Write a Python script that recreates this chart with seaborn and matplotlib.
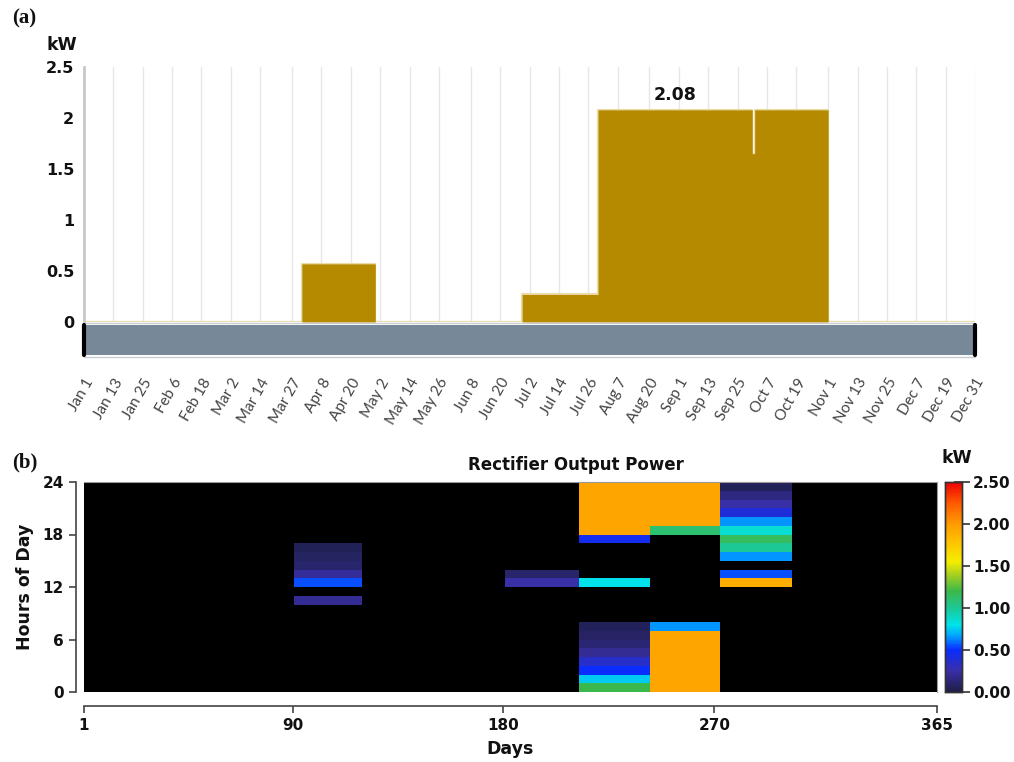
import numpy as np
import matplotlib
matplotlib.use("Agg")
import matplotlib.pyplot as plt
from matplotlib.colors import LinearSegmentedColormap
import seaborn as sns

# ---------------------------------------------------------------
# DATA
# ---------------------------------------------------------------
DAYS = np.arange(1, 366)

# panel (a): daily peak of rectifier output, step segments [start, end)
SEG_START = [90, 180, 211, 274, 275]
SEG_END = [120, 211, 274, 275, 305]
SEG_KW = [0.57, 0.27, 2.08, 1.65, 2.08]

DATE_LABELS = ["Jan 1", "Jan 13", "Jan 25", "Feb 6", "Feb 18", "Mar 2", "Mar 14",
               "Mar 27", "Apr 8", "Apr 20", "May 2", "May 14", "May 26", "Jun 8",
               "Jun 20", "Jul 2", "Jul 14", "Jul 26", "Aug 7", "Aug 20", "Sep 1",
               "Sep 13", "Sep 25", "Oct 7", "Oct 19", "Nov 1", "Nov 13", "Nov 25",
               "Dec 7", "Dec 19", "Dec 31"]
DATE_DOY = [1, 13, 25, 37, 49, 61, 73, 86, 98, 110, 122, 134, 146, 159, 171, 183,
            195, 207, 219, 232, 244, 256, 268, 280, 292, 305, 317, 329, 341, 353, 365]

# panel (b): hour-of-day profiles (hour 0..23, kW) for day blocks [start, end)
HM_START = [91, 181, 213, 243, 273]
HM_END = [120, 213, 243, 273, 304]
HM_PROFILES = [
    [0, 0, 0, 0, 0, 0, 0, 0, 0, 0, 0.20, 0, 0.55, 0.22, 0.10, 0.07,
     0.04, 0, 0, 0, 0, 0, 0, 0],
    [0, 0, 0, 0, 0, 0, 0, 0, 0, 0, 0, 0, 0.25, 0.10, 0, 0,
     0, 0, 0, 0, 0, 0, 0, 0],
    [1.20, 0.75, 0.50, 0.35, 0.20, 0.12, 0.08, 0.05, 0, 0, 0, 0, 0.80, 0, 0, 0,
     0, 0.45, 1.95, 1.95, 1.95, 1.95, 1.95, 1.95],
    [1.95, 1.95, 1.95, 1.95, 1.95, 1.95, 1.95, 0.65, 0, 0, 0, 0, 0, 0, 0, 0,
     0, 0, 1.10, 1.95, 1.95, 1.95, 1.95, 1.95],
    [0, 0, 0, 0, 0, 0, 0, 0, 0, 0, 0, 0, 1.90, 0.55, 0, 0.65,
     1.00, 1.15, 0.85, 0.65, 0.40, 0.25, 0.15, 0.05],
]
HM_DAY_TICKS = [1, 90, 180, 270, 365]
HM_HOUR_TICKS = [0, 6, 12, 18, 24]
CBAR_TICKS = [0, 0.5, 1.0, 1.5, 2.0, 2.5]

# build the daily / hourly tables from the segments
kw_daily = np.zeros(len(DAYS))
for s, e, v in zip(SEG_START, SEG_END, SEG_KW):
    kw_daily[(DAYS >= s) & (DAYS < e)] = v

power = np.zeros((24, len(DAYS)))
for s, e, prof in zip(HM_START, HM_END, HM_PROFILES):
    cols = (DAYS >= s) & (DAYS < e)
    power[:, cols] = np.array(prof)[:, None]

# ---------------------------------------------------------------
# STYLE
# ---------------------------------------------------------------
sns.set_theme(style="white")
plt.rcParams["font.family"] = ["DejaVu Sans"]
TXT = "#111111"
GOLD = "#B58900"
BOLD = dict(fontweight="bold", color=TXT)

W, H = 1014, 762
fig = plt.figure(figsize=(W / 100, H / 100), dpi=100)


def box(x0, y0, x1, y1):
    return [x0 / W, 1 - y1 / H, (x1 - x0) / W, (y1 - y0) / H]


# ---------------------------------------------------------------
# (a) area chart
# ---------------------------------------------------------------
ax_a = fig.add_axes(box(84, 67, 975, 322))
sns.lineplot(x=DAYS, y=kw_daily, ax=ax_a, color="#eadca9", lw=1.6,
             drawstyle="steps-post", zorder=2)
ax_a.fill_between(DAYS, kw_daily, step="post", color=GOLD, lw=0, zorder=3)
ax_a.set_xlim(1, 365)
ax_a.set_ylim(0, 2.5)
ax_a.set_xticks(DATE_DOY)
ax_a.set_xticklabels([])
ax_a.grid(axis="x", color="#e6e6e6", lw=1)
ax_a.grid(axis="y", visible=False)
ax_a.set_yticks([0, 0.5, 1, 1.5, 2, 2.5])
ax_a.set_yticklabels(["0", "0.5", "1", "1.5", "2", "2.5"], fontsize=11.5, **BOLD)
ax_a.tick_params(axis="both", length=0)
ax_a.tick_params(axis="y", pad=7)
for side in ["top", "right", "bottom"]:
    ax_a.spines[side].set_visible(False)
ax_a.spines["left"].set_color("#c8c8c8")
ax_a.spines["left"].set_linewidth(2)
ax_a.set_xlabel("")
ax_a.set_ylabel("")

peak = max(SEG_KW)
peak_i = SEG_KW.index(peak)
ax_a.text((SEG_START[peak_i] + SEG_END[peak_i]) / 2, peak + 0.06, f"{peak:.2f}",
          ha="center", va="bottom", fontsize=12.5, **BOLD)

# range-slider band under the chart with the date labels
ax_band = fig.add_axes(box(84, 325, 975, 355))
ax_band.set_facecolor("#778899")
ax_band.set_xlim(1, 365)
ax_band.set_ylim(0, 1)
for s in ax_band.spines.values():
    s.set_visible(False)
ax_band.axhline(1.08, color="#c9cdd2", lw=1, clip_on=False)
ax_band.axhline(-0.08, color="#c9cdd2", lw=1, clip_on=False)
ax_band.axvline(1, color="black", lw=3, clip_on=False)
ax_band.axvline(365, color="black", lw=3, clip_on=False)
ax_band.set_yticks([])
ax_band.set_xticks(DATE_DOY)
ax_band.set_xticklabels(DATE_LABELS, rotation=60, ha="right",
                        rotation_mode="anchor", fontsize=11, color="#444444",
                        family=["Lato", "DejaVu Sans"])
ax_band.tick_params(axis="x", length=0, pad=15)

fig.text(12 / W, 1 - 18 / H, "(a)", fontfamily="Liberation Serif",
         fontsize=15, va="center", **BOLD)
fig.text(62 / W, 1 - 45 / H, "kW", fontsize=12.5, ha="center", va="center",
         **BOLD)

# ---------------------------------------------------------------
# (b) heat map
# ---------------------------------------------------------------
cmap = LinearSegmentedColormap.from_list("rect", [
    (0.00, "#1e1e46"), (0.10, "#3a2fa8"), (0.20, "#0a2cff"), (0.27, "#00a8ff"),
    (0.32, "#00e4e8"), (0.40, "#1cc896"), (0.48, "#3cb84a"), (0.56, "#a8d020"),
    (0.62, "#f5ee00"), (0.72, "#ffc000"), (0.80, "#ff9c00"), (0.90, "#ff5a00"),
    (1.00, "#ee0000")])

ax_hm = fig.add_axes(box(84, 482, 937, 692))
cax = fig.add_axes(box(945, 482, 962, 692))
sns.heatmap(power, ax=ax_hm, cmap=cmap, vmin=0, vmax=2.5, mask=(power == 0),
            cbar_ax=cax, cbar_kws={"ticks": CBAR_TICKS},
            xticklabels=False, yticklabels=False)
ax_hm.set_facecolor("black")

# spine offsets first: moving a spine resets the ticks
for side in ["left", "bottom"]:
    ax_hm.spines[side].set_visible(True)
    ax_hm.spines[side].set_color("#444444")
    ax_hm.spines[side].set_linewidth(1.2)
ax_hm.spines["left"].set_position(("outward", 6))
ax_hm.spines["bottom"].set_position(("outward", 10))
for side in ["top", "right"]:
    ax_hm.spines[side].set_visible(True)
    ax_hm.spines[side].set_color("#9a9a9a")
    ax_hm.spines[side].set_linewidth(0.8)

ax_hm.set_xlim(0, len(DAYS))
ax_hm.set_ylim(0, 24)
ax_hm.set_xticks([(d - 1) * len(DAYS) / 364 for d in HM_DAY_TICKS])
ax_hm.set_xticklabels([str(d) for d in HM_DAY_TICKS], rotation=0,
                      fontsize=11, **BOLD)
ax_hm.set_yticks(HM_HOUR_TICKS)
ax_hm.set_yticklabels([str(h) for h in HM_HOUR_TICKS], rotation=0,
                      fontsize=11, **BOLD)
ax_hm.tick_params(axis="both", length=5, width=1.2, color="#444444",
                  bottom=True, left=True, direction="out")
ax_hm.set_xlabel("Days", fontsize=12.5, labelpad=5, **BOLD)
ax_hm.set_ylabel("Hours of Day", fontsize=12.5, labelpad=6, **BOLD)
ax_hm.set_title("")
fig.text(576 / W, 1 - 465 / H, "Rectifier Output Power", fontsize=12,
         ha="center", va="center", **BOLD)

cax.set_yticks(CBAR_TICKS)
cax.set_yticklabels([f"{t:.2f}" for t in CBAR_TICKS], fontsize=11, **BOLD)
cax.tick_params(axis="y", direction="inout", length=12, width=1.2,
                color="#333333", right=True, pad=2)
for s in cax.spines.values():
    s.set_visible(True)
    s.set_color("#333333")
    s.set_linewidth(1)

fig.text(12 / W, 1 - 462 / H, "(b)", fontfamily="Liberation Serif",
         fontsize=15, va="center", **BOLD)
fig.text(957 / W, 1 - 458 / H, "kW", fontsize=12.5, ha="center", va="center",
         **BOLD)

fig.savefig("out.png", dpi=100)
